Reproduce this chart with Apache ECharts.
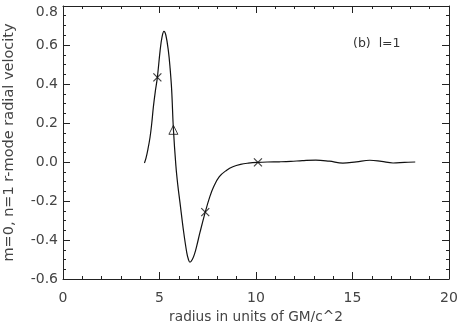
<!DOCTYPE html>
<html>
<head>
<meta charset="utf-8">
<script src="https://cdn.jsdelivr.net/npm/echarts@6/dist/echarts.min.js"></script>
<style>
  html, body { margin: 0; padding: 0; background: #fff; }
  #chart { width: 460px; height: 322px; }
</style>
</head>
<body>
<div id="chart"></div>
<script>
// radius (GM/c^2) and r-mode radial velocity
const radius = [
    4.22, 4.30, 4.40, 4.51, 4.60, 4.68, 4.78, 4.89, 5.03, 5.13,
    5.23, 5.33, 5.46, 5.55, 5.63, 5.72, 5.85, 5.95, 6.06, 6.23,
    6.41, 6.50, 6.58, 6.70, 6.82, 6.93, 7.10, 7.37, 7.60, 7.80,
    8.10, 8.48, 8.80, 9.20, 9.60, 10.1, 10.6, 11.2, 11.8, 12.4,
    13.1, 13.8, 14.5, 15.2, 15.9, 16.5, 17.1, 17.7, 18.25
];
const velocity = [
    -0.005, 0.02, 0.065, 0.127, 0.20, 0.28, 0.36, 0.434, 0.57, 0.64,
    0.67, 0.65, 0.57, 0.48, 0.37, 0.17, -0.02, -0.12, -0.207, -0.343,
    -0.463, -0.50, -0.514, -0.50, -0.47, -0.43, -0.36, -0.257, -0.18, -0.128,
    -0.075, -0.042, -0.024, -0.012, -0.006, -0.002, 0.0, 0.001, 0.003, 0.007,
    0.010, 0.004, -0.006, 0.001, 0.009, 0.003, -0.005, -0.002, 0.0
];

// marked points on the curve
const crossPts = [[4.89, 0.434], [7.37, -0.257], [10.1, -0.002]];
const trianglePts = [[5.72, 0.165]];

const xTicks = [0, 5, 10, 15, 20];
const yTicks = [-0.6, -0.4, -0.2, 0.0, 0.2, 0.4, 0.6, 0.8];

const chart = echarts.init(document.getElementById('chart'));

const axisColor = '#222';
const labelFont = { fontFamily: 'DejaVu Sans', fontSize: 14, color: '#444' };
const yMax = yTicks[yTicks.length - 1];

function xAxisDef(pos, labels) {
    return {
        type: 'value',
        position: pos,
        min: xTicks[0],
        max: xTicks[xTicks.length - 1],
        interval: 5,
        axisLine: { show: true, onZero: false, lineStyle: { color: axisColor, width: 1 } },
        axisTick: { show: true, inside: true, length: 7, lineStyle: { color: axisColor } },
        minorTick: { show: true, splitNumber: 5, length: 3, lineStyle: { color: axisColor } },
        splitLine: { show: false },
        axisLabel: Object.assign({ show: labels, margin: 12 }, labelFont),
        name: labels ? 'radius in units of GM/c^2' : '',
        nameLocation: 'middle',
        nameGap: 31,
        nameTextStyle: { fontFamily: 'DejaVu Sans', fontSize: 13.7, color: '#444' }
    };
}

function yAxisDef(pos, labels) {
    return {
        type: 'value',
        position: pos,
        min: yTicks[0],
        max: yMax,
        interval: 0.2,
        axisLine: { show: true, onZero: false, lineStyle: { color: axisColor, width: 1 } },
        axisTick: { show: true, inside: true, length: 7, lineStyle: { color: axisColor } },
        minorTick: { show: true, splitNumber: 4, length: 3, lineStyle: { color: axisColor } },
        splitLine: { show: false },
        axisLabel: Object.assign({
            show: labels,
            margin: 5,
            formatter: v => {
                const s = (Math.abs(v) < 1e-9 ? 0 : v).toFixed(1);
                // top label sits a little below the frame, as in the original
                return Math.abs(v - yMax) < 1e-9 ? '{t|' + s + '}' : s;
            },
            rich: { t: Object.assign({ padding: [12, 0, 0, 0] }, labelFont) }
        }, labelFont),
        name: labels ? 'm=0, n=1 r-mode radial velocity' : '',
        nameLocation: 'middle',
        nameRotate: 90,
        nameGap: 46,
        nameTextStyle: { fontFamily: 'DejaVu Sans', fontSize: 14.5, color: '#444' }
    };
}

const option = {
    backgroundColor: '#fff',
    animation: false,
    grid: { left: 63, right: 11, top: 6, bottom: 43, containLabel: false, outerBoundsMode: 'none' },
    xAxis: [xAxisDef('bottom', true), xAxisDef('top', false)],
    yAxis: [yAxisDef('left', true), yAxisDef('right', false)],
    graphic: [{
        type: 'text',
        left: 353,
        top: 37,
        style: { text: '(b)  l=1', fontFamily: 'DejaVu Sans', fontSize: 12.5, fill: '#333' }
    }],
    series: [
        {
            type: 'line',
            data: radius.map((r, i) => [r, velocity[i]]),
            smooth: 0.4,
            showSymbol: false,
            lineStyle: { color: '#111', width: 1.2 }
        },
        {
            type: 'scatter',
            data: crossPts,
            symbol: 'path://M0,0L10,10M10,0L0,10',
            symbolSize: 8,
            itemStyle: { color: 'none', borderColor: '#111', borderWidth: 1.2 }
        },
        {
            type: 'scatter',
            data: trianglePts,
            symbol: 'triangle',
            symbolSize: [9, 9],
            itemStyle: { color: 'rgba(255,255,255,0)', borderColor: '#111', borderWidth: 1 }
        }
    ]
};

chart.setOption(option);
</script>
</body>
</html>
